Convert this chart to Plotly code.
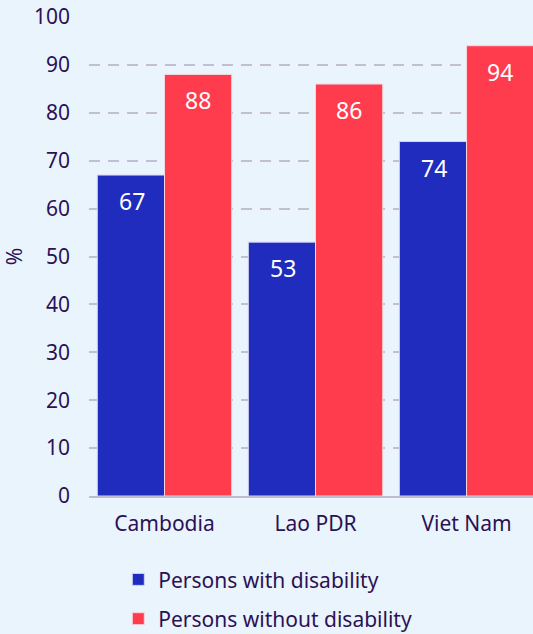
import plotly.graph_objects as go

countries = ["Cambodia", "Lao PDR", "Viet Nam"]
with_disability = [67, 53, 74]
without_disability = [88, 86, 94]

blue = "#1f2cbd"
red = "#ff3c4e"
ink = "#2b1155"
bg = "#eaf4fd"

fig = go.Figure()
fig.add_trace(go.Bar(
    x=countries, y=with_disability, name="Persons with disability",
    marker=dict(color=blue, line=dict(color="#d4d4f2", width=1)),
    text=with_disability, textposition="none",
    legendgroup="a",
))
fig.add_trace(go.Bar(
    x=countries, y=without_disability, name="Persons without disability",
    marker=dict(color=red, line=dict(color="#f4d6dc", width=1)),
    text=without_disability, textposition="none",
    legendgroup="b",
))

# value labels sitting just under the top of each bar
for vals, shift in [(with_disability, -33), (without_disability, 33)]:
    for c, v in zip(countries, vals):
        fig.add_annotation(x=c, y=v, text=str(v), showarrow=False,
                           xshift=shift, yshift=-26,
                           font=dict(color="white", size=23))

fig.update_layout(
    width=533, height=634,
    paper_bgcolor=bg, plot_bgcolor=bg,
    font=dict(family="Noto Sans", color=ink, size=21),
    margin=dict(l=89, r=0, t=17, b=138, autoexpand=False),
    barmode="group", bargap=0.11, bargroupgap=0,
    showlegend=True,
    legend=dict(orientation="v", x=0.066, xanchor="left", y=-0.132, yanchor="top",
                font=dict(size=21), tracegroupgap=9, bgcolor="rgba(0,0,0,0)"),
)
fig.update_yaxes(range=[0, 100], dtick=10, showgrid=True, gridcolor="#c2bfd2",
                 gridwidth=1.5, griddash="11px,8px", zeroline=False, automargin=False,
                 ticklabelstandoff=18, tickfont=dict(size=21),
                 title=dict(text="%", standoff=30, font=dict(size=21)))
fig.update_xaxes(range=[-0.5, 2.44], showline=True, linecolor="#bfbbd0", linewidth=2,
                 automargin=False, ticklabelstandoff=8, tickfont=dict(size=21))

fig.write_html("out.html", config={"displayModeBar": False},
               post_script="document.body.style.margin='0';")
